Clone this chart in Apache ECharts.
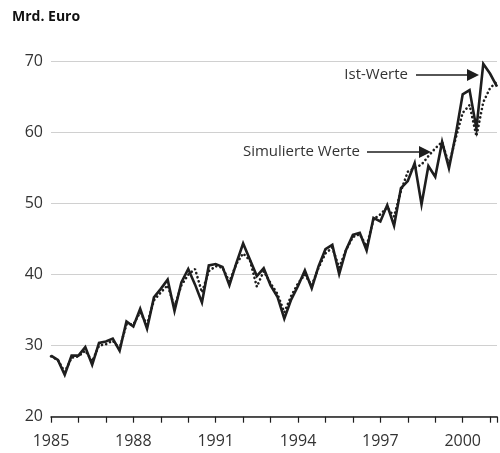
<!DOCTYPE html>
<html>
<head>
<meta charset="utf-8">
<script src="https://cdn.jsdelivr.net/npm/echarts@6/dist/echarts.min.js"></script>
<style>
html,body{margin:0;padding:0;background:#fff;}
#c{width:500px;height:453px;}
</style>
</head>
<body>
<div id="c"></div>
<script>
// Quarterly periods starting 1985 Q1
var startYear = 1985;
var istWerte = [
  28.6, 28.0, 25.9, 28.6,
  28.6, 29.8, 27.3, 30.4,
  30.6, 31.0, 29.3, 33.4,
  32.7, 35.2, 32.4, 36.8,
  38.0, 39.3, 34.9, 38.9,
  40.8, 38.6, 36.1, 41.3,
  41.5, 41.1, 38.5, 41.6,
  44.4, 42.1, 39.8, 40.9,
  38.5, 36.9, 33.8, 36.5,
  38.4, 40.6, 38.1, 41.2,
  43.6, 44.2, 40.1, 43.5,
  45.6, 45.9, 43.4, 48.0,
  47.5, 49.8, 46.9, 52.2,
  53.2, 55.7, 49.9, 55.3,
  53.8, 58.7, 55.0, 59.8,
  65.4, 66.0, 60.6, 69.7,
  68.3, 66.5
];
var simulierteWerte = [
  28.5, 28.0, 26.3, 28.3,
  28.5, 29.3, 27.8, 30.0,
  30.2, 30.7, 29.6, 33.0,
  33.0, 34.7, 33.0, 36.4,
  37.5, 38.5, 35.5, 38.5,
  40.0, 40.8, 37.5, 40.5,
  41.2, 41.0, 39.0, 41.5,
  43.0, 42.0, 38.3, 40.5,
  38.8, 37.3, 34.7, 37.0,
  38.8, 40.0, 38.5, 41.0,
  43.0, 43.8, 41.0, 43.5,
  45.3, 45.7, 44.0, 47.8,
  48.5, 49.5, 48.2, 51.8,
  54.5, 55.0, 55.5, 56.7,
  57.8, 58.7, 55.5, 59.3,
  62.8, 63.9, 59.5, 64.3,
  66.3, 67.2
];
var yTicks = [20, 30, 40, 50, 60, 70];
var xLabelYears = [1985, 1988, 1991, 1994, 1997, 2000];
var yUnit = 'Mrd. Euro';
var labelIst = 'Ist-Werte';
var labelSim = 'Simulierte Werte';

function toPairs(arr){
  return arr.map(function(v,i){ return [startYear + i/4, v]; });
}

var chart = echarts.init(document.getElementById('c'), null, {renderer:'canvas'});
var FONT = '"Open Sans", "Noto Sans", sans-serif';
var INK = '#1e1e1e';

function arrow(x1, x2, y){
  return [
    {type:'line', shape:{x1:x1, y1:y, x2:x2-10, y2:y}, style:{stroke:INK, lineWidth:1.6}},
    {type:'polygon', shape:{points:[[x2-12,y-6],[x2,y],[x2-12,y+6]]}, style:{fill:INK}}
  ];
}

var graphics = [
  {type:'text', left:12, top:10, style:{text:yUnit, font:'bold 14px ' + FONT, fill:'#111'}},
  {type:'text', x:408, y:75, style:{text:labelIst, font:'15px ' + FONT, fill:'#333', align:'right', verticalAlign:'middle'}},
  {type:'text', x:360, y:152, style:{text:labelSim, font:'15px ' + FONT, fill:'#333', align:'right', verticalAlign:'middle'}}
].concat(arrow(416, 479, 75)).concat(arrow(367, 431, 152));

chart.setOption({
  animation:false,
  backgroundColor:'#fff',
  grid:{left:51, right:0.5, top:61.7, bottom:36.3, containLabel:false},
  xAxis:{
    type:'value', min:1985, max:2001.25, interval:1,
    axisLine:{show:true, lineStyle:{color:INK, width:1.5}},
    axisTick:{show:true, length:6, lineStyle:{color:INK, width:1.2}},
    splitLine:{show:false},
    axisLabel:{
      fontFamily:FONT, fontSize:16, color:'#333', margin:17,
      formatter:function(v){ return xLabelYears.indexOf(Math.round(v*100)/100) >= 0 ? String(v) : ''; }
    }
  },
  yAxis:{
    type:'value', min:yTicks[0], max:yTicks[yTicks.length-1], interval:10,
    axisLine:{show:false}, axisTick:{show:false},
    splitLine:{show:true, lineStyle:{color:'#d0d0d0', width:1.2}},
    axisLabel:{fontFamily:FONT, fontSize:16, color:'#333', margin:8}
  },
  series:[
    {type:'line', name:labelSim, data:toPairs(simulierteWerte), symbol:'none',
     lineStyle:{color:INK, width:2.6, type:[0.1,4.2], cap:'round'}, z:2},
    {type:'line', name:labelIst, data:toPairs(istWerte), symbol:'none',
     lineStyle:{color:INK, width:2.6, join:'miter'}, z:3}
  ],
  graphic:graphics
});
</script>
</body>
</html>
